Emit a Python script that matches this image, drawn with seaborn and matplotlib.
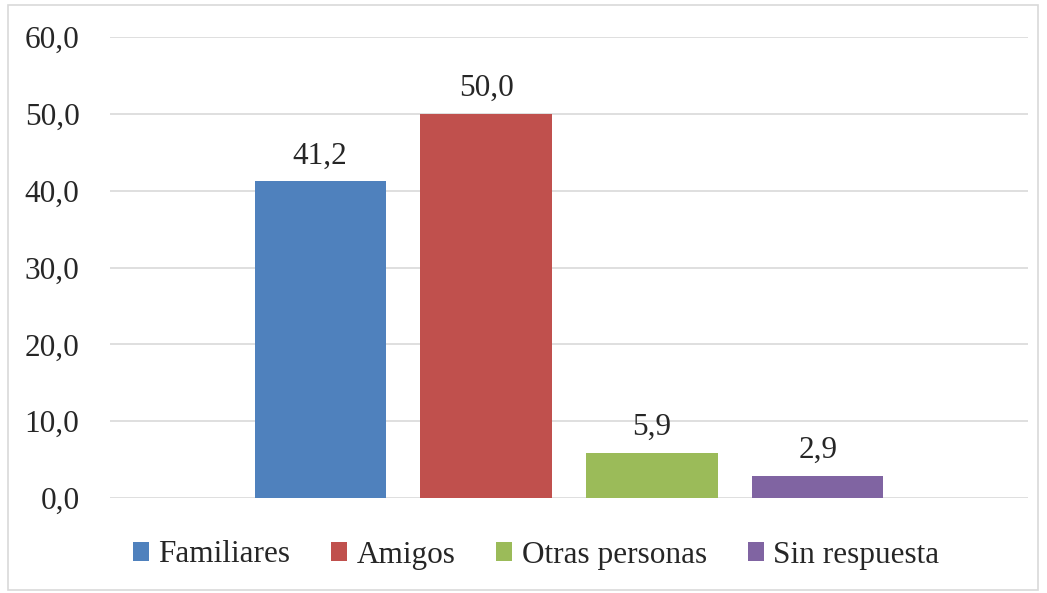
import matplotlib
matplotlib.use("Agg")
import matplotlib.pyplot as plt
from matplotlib.patches import Rectangle
import seaborn as sns
import pandas as pd

respuestas = ["Familiares", "Amigos", "Otras personas", "Sin respuesta"]
porcentajes = [41.2, 50.0, 5.9, 2.9]
colores = ["#4F81BD", "#C0504D", "#9BBB59", "#8064A2"]
yticks = [0, 10, 20, 30, 40, 50, 60]

df = pd.DataFrame({"grupo": [""] * len(respuestas),
                   "respuesta": respuestas,
                   "porcentaje": porcentajes})

sns.set_style("white")
plt.rcParams["font.family"] = ["Liberation Serif", "DejaVu Serif"]
fs = 22.5

fig = plt.figure(figsize=(10.47, 5.93), dpi=100)
ax = fig.add_axes([110 / 1047, 1 - 498 / 593, 918 / 1047, 461 / 593])

sns.barplot(data=df, x="grupo", y="porcentaje", hue="respuesta",
            hue_order=respuestas, palette=colores, width=0.723, gap=0.21,
            saturation=1, linewidth=0, ax=ax, legend=True)

for cont in ax.containers:
    ax.bar_label(cont, labels=[f"{v:.1f}".replace(".", ",") for v in cont.datavalues],
                 padding=8, fontsize=fs)

ax.set_xlim(-0.5, 0.5)
ax.set_ylim(0, 60)
ax.set_yticks(yticks)
ax.set_yticklabels([f"{v:.1f}".replace(".", ",") for v in yticks], fontsize=fs)
ax.set_xticks([])
ax.set_xlabel("")
ax.set_ylabel("")
ax.tick_params(axis="y", length=0, pad=22)
ax.yaxis.grid(True, color="#d9d9d9", linewidth=1.2)
ax.set_axisbelow(True)
for s in ax.spines.values():
    s.set_visible(False)

ax.get_legend().remove()
handles, labels = ax.get_legend_handles_labels()
fig.legend(handles, labels, loc="center", bbox_to_anchor=(536 / 1047, 1 - 555 / 593),
           ncol=4, frameon=False, fontsize=fs, handlelength=0.52, handleheight=0.55,
           handletextpad=0.3, columnspacing=1.3)

fig.patches.append(Rectangle((8 / 1047, 3 / 593), 1030 / 1047, 585 / 593,
                             transform=fig.transFigure, fill=False,
                             edgecolor="#d9d9d9", linewidth=1.2))

fig.savefig("out.png", dpi=100)
